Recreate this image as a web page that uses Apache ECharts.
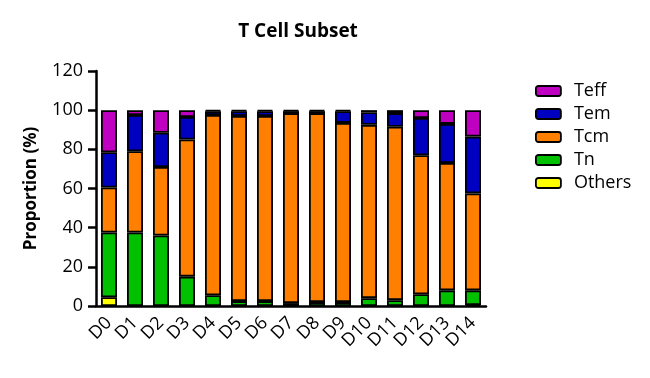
<!DOCTYPE html>
<html><head><meta charset="utf-8">
<script src="https://cdn.jsdelivr.net/npm/echarts@6/dist/echarts.min.js"></script>
<style>html,body{margin:0;padding:0;background:#fff}#c{width:650px;height:378px}</style>
</head><body><div id="c"></div>
<script>
var categories = ['D0','D1','D2','D3','D4','D5','D6','D7','D8','D9','D10','D11','D12','D13','D14'];
var others = [4.5, 0, 0, 0, 0, 0, 0, 0, 0, 0, 0, 0, 0, 0, 0.5];
var tn     = [33, 37.5, 36, 15, 5.5, 2.5, 2.5, 1.5, 2, 2, 4, 3, 6, 8, 7.5];
var tcm    = [23, 41.5, 35, 70, 92, 94.5, 94.5, 97, 96.5, 91.5, 88.5, 88.5, 71, 65, 49.5];
var tem    = [18, 18.5, 17.5, 11.5, 2, 2.5, 2.5, 1, 1, 6, 6.5, 7, 19, 20, 29];
var teff   = [21.5, 2.5, 11.5, 3.5, 0.5, 0.5, 0.5, 0.5, 0.5, 0.5, 1, 1.5, 4, 7, 13.5];
var yTicks = [0, 20, 40, 60, 80, 100, 120];

var font = 'Open Sans';
function s(name, data, color) {
  return {
    name: name, type: 'bar', stack: 'all', data: data, barWidth: 16,
    itemStyle: { color: color, borderColor: '#000', borderWidth: 1.8 },
    emphasis: { disabled: true }
  };
}
var chart = echarts.init(document.getElementById('c'));
chart.setOption({
  animation: false,
  title: { text: 'T Cell Subset', left: 293, top: 17, textAlign: 'center',
    textStyle: { fontFamily: font, fontSize: 19, fontWeight: 'bold', color: '#000' } },
  grid: { left: 96, right: 164, top: 71, bottom: 72 },
  legend: {
    orient: 'vertical', left: 530, top: 77, itemWidth: 25, itemHeight: 10, itemGap: 5,
    data: ['Teff', 'Tem', 'Tcm', 'Tn', 'Others'],
    textStyle: { fontFamily: font, fontSize: 18, color: '#000', padding: [0, 0, 0, 8] },
    itemStyle: { borderColor: '#000', borderWidth: 1.8 }
  },
  xAxis: {
    type: 'category', data: categories,
    axisLine: { lineStyle: { color: '#000', width: 2.5 } },
    axisTick: { alignWithLabel: true, length: 8, lineStyle: { color: '#000', width: 2.5 } },
    axisLabel: { interval: 0, rotate: 45, fontFamily: font, fontSize: 18, color: '#000', margin: 14 }
  },
  yAxis: {
    type: 'value', min: 0, max: 120, interval: 20,
    name: 'Proportion (%)', nameLocation: 'middle', nameGap: 56,
    nameTextStyle: { fontFamily: font, fontSize: 17, fontWeight: 'bold', color: '#000' },
    splitLine: { show: false },
    axisLine: { show: true, lineStyle: { color: '#000', width: 2.5 } },
    axisTick: { show: true, length: 8, lineStyle: { color: '#000', width: 2.5 } },
    axisLabel: { fontFamily: font, fontSize: 18, color: '#000', margin: 13,
      formatter: function (v) { return yTicks.indexOf(v) >= 0 ? String(v) : ''; } }
  },
  series: [
    s('Others', others, '#FFFF00'),
    s('Tn', tn, '#00C000'),
    s('Tcm', tcm, '#FF8000'),
    s('Tem', tem, '#0000C0'),
    s('Teff', teff, '#C000C0')
  ]
});
</script></body></html>
